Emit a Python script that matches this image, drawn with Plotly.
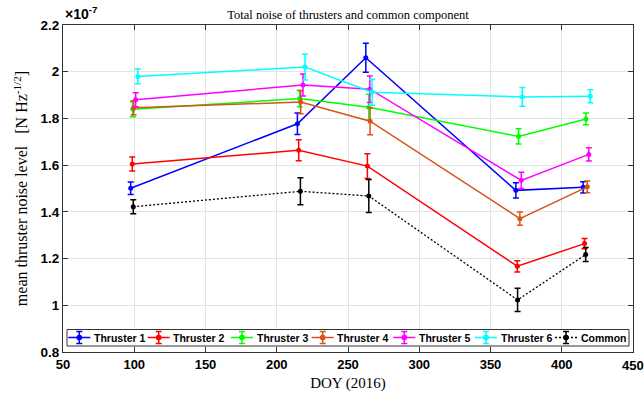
import plotly.graph_objects as go

names = ["Thruster 1", "Thruster 2", "Thruster 3", "Thruster 4", "Thruster 5", "Thruster 6", "Common"]
colors = ["#0000ff", "#ff0000", "#00ff00", "#d95319", "#ff00ff", "#00ffff", "#000000"]

x_t1 = [97.5, 214.5, 262.5, 367.8, 415.0]
x_t2 = [98.6, 215.4, 263.6, 368.8, 416.0]
x_t3 = [99.0, 216.1, 264.6, 369.7, 417.0]
x_t4 = [99.5, 216.8, 265.5, 370.6, 417.9]
x_t5 = [101.0, 218.4, 265.3, 371.6, 419.0]
x_t6 = [102.5, 219.8, 266.9, 372.3, 420.0]
x_common = [99.3, 216.6, 264.6, 369.0, 416.8]

y_t1 = [1.501, 1.777, 2.060, 1.492, 1.505]
y_t2 = [1.605, 1.664, 1.596, 1.167, 1.264]
y_t3 = [1.839, 1.885, 1.848, 1.723, 1.798]
y_t4 = [1.846, 1.870, 1.788, 1.371, 1.507]
y_t5 = [1.880, 1.943, 1.925, 1.535, 1.646]
y_t6 = [1.980, 2.020, 1.912, 1.892, 1.895]
y_common = [1.422, 1.488, 1.468, 1.023, 1.217]

e_t1 = [0.027, 0.046, 0.062, 0.033, 0.024]
e_t2 = [0.030, 0.045, 0.053, 0.024, 0.022]
e_t3 = [0.032, 0.035, 0.055, 0.033, 0.025]
e_t4 = [0.030, 0.050, 0.058, 0.028, 0.025]
e_t5 = [0.030, 0.047, 0.057, 0.035, 0.028]
e_t6 = [0.032, 0.055, 0.056, 0.040, 0.028]
e_common = [0.030, 0.058, 0.071, 0.050, 0.030]

y_ticks = [0.8, 1.0, 1.2, 1.4, 1.6, 1.8, 2.0, 2.2]
y_ticktext = ["0.8", "1", "1.2", "1.4", "1.6", "1.8", "2", "2.2"]
x_ticks = [50, 100, 150, 200, 250, 300, 350, 400, 450]
x_ticktext = ["50", "100", "150", "200", "250", "300", "350", "400", ""]

xs = [x_t1, x_t2, x_t3, x_t4, x_t5, x_t6, x_common]
ys = [y_t1, y_t2, y_t3, y_t4, y_t5, y_t6, y_common]
es = [e_t1, e_t2, e_t3, e_t4, e_t5, e_t6, e_common]

# layout geometry (pixels)
W, H = 644, 400
ML, MR, MT, MB = 63, 11, 25, 48
PL, PR, PT, PB = ML, W - MR, MT, H - MB


def fx(px):
    return (px - PL) / (PR - PL)


def fy(py):
    return (PB - py) / (PB - PT)


tick_font = dict(family="Liberation Sans, Arial", size=13, color="#000", weight="bold")
dotted = "2px,2px"

fig = go.Figure()
for name, c, x, y, e in zip(names, colors, xs, ys, es):
    is_common = name == "Common"
    fig.add_trace(go.Scatter(
        x=x, y=y, name=name, mode="lines+markers", showlegend=False,
        line=dict(color=c, width=1.3 if is_common else 1.5, dash=dotted if is_common else "solid"),
        marker=dict(color=c, size=5, symbol="circle"),
        error_y=dict(type="data", array=e, visible=True, color=c, thickness=1.5, width=3),
    ))

# custom MATLAB-style legend box (one row inside the axes)
legend_starts = [68.3, 147.7, 231.0, 311.7, 393.3, 475.0, 555.0]
sym_len = 22
yc = 337.5
shapes = [dict(type="rect", xref="paper", yref="paper", x0=fx(67), x1=fx(629), y0=fy(346), y1=fy(329.5),
               fillcolor="white", line=dict(color="#333333", width=1), layer="above")]
annotations = []
for name, c, s in zip(names, colors, legend_starts):
    is_common = name == "Common"
    xc = s + sym_len / 2
    shapes.append(dict(type="line", xref="paper", yref="paper", x0=fx(s), x1=fx(s + sym_len), y0=fy(yc), y1=fy(yc),
                       line=dict(color=c, width=1.3 if is_common else 1.5, dash=dotted if is_common else "solid"),
                       layer="above"))
    shapes.append(dict(type="line", xref="paper", yref="paper", x0=fx(xc), x1=fx(xc), y0=fy(yc - 6), y1=fy(yc + 6),
                       line=dict(color=c, width=1.5), layer="above"))
    for dy in (-6, 6):
        shapes.append(dict(type="line", xref="paper", yref="paper", x0=fx(xc - 3), x1=fx(xc + 3), y0=fy(yc + dy), y1=fy(yc + dy),
                           line=dict(color=c, width=1.5), layer="above"))
    shapes.append(dict(type="circle", xref="paper", yref="paper", x0=fx(xc - 2.5), x1=fx(xc + 2.5), y0=fy(yc + 2.5), y1=fy(yc - 2.5),
                       fillcolor=c, line=dict(color=c, width=1), layer="above"))
    annotations.append(dict(text=name, xref="paper", yref="paper", x=fx(s + sym_len + 1.5), y=fy(yc),
                            xanchor="left", yanchor="middle", showarrow=False,
                            font=dict(family="Liberation Sans, Arial", size=10.5, color="#000", weight="bold")))

annotations.append(dict(text="×10<sup>-7</sup>", xref="paper", yref="paper", x=0.0, y=1.0, yshift=1,
                        xanchor="left", yanchor="bottom", showarrow=False,
                        font=dict(family="Liberation Sans, Arial", size=14, color="#000", weight="bold")))
# last x tick label, clipped by the page edge as in the original figure
annotations.append(dict(text=str(x_ticks[-1]), xref="x", yref="paper", x=x_ticks[-1], y=0, yshift=-4,
                        xanchor="center", yanchor="top", showarrow=False, font=tick_font))

fig.update_layout(
    width=W, height=H,
    margin=dict(l=ML, r=MR, t=MT, b=MB, autoexpand=False),
    paper_bgcolor="white", plot_bgcolor="white",
    title=dict(text="Total noise of thrusters and common component",
               font=dict(family="Liberation Serif, Times New Roman", size=12.5, color="#000"),
               x=0.5, xanchor="center", xref="paper", y=0.975, yanchor="top"),
    showlegend=False,
    shapes=shapes,
    annotations=annotations,
    xaxis=dict(range=[50, 450], tickvals=x_ticks, ticktext=x_ticktext, showgrid=True, gridcolor="#e3e3e3",
               ticks="inside", ticklen=5, tickcolor="#333", mirror="ticks", showline=True,
               linecolor="#333", linewidth=1, zeroline=False, automargin=False,
               tickfont=tick_font,
               title=dict(text="DOY (2016)", font=dict(family="Liberation Serif, Times New Roman", size=15, color="#000"), standoff=6)),
    yaxis=dict(range=[0.8, 2.2], tickvals=y_ticks, ticktext=y_ticktext, showgrid=True, gridcolor="#e3e3e3",
               ticks="inside", ticklen=5, tickcolor="#333", mirror="ticks", showline=True,
               linecolor="#333", linewidth=1, zeroline=False, automargin=False,
               tickfont=dict(family="Liberation Sans, Arial", size=13.5, color="#000", weight="bold"),
               title=dict(text="mean thruster noise level   [N Hz<sup>-1/2</sup>]",
                          font=dict(family="Liberation Serif, Times New Roman", size=16, color="#000"), standoff=8)),
)
fig.write_html("out.html")
